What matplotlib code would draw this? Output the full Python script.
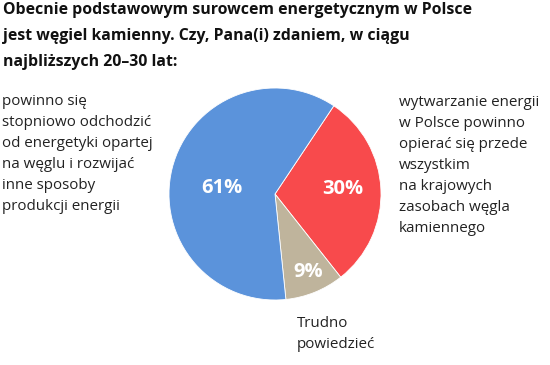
import matplotlib.pyplot as plt

plt.rcParams['font.family'] = ['Open Sans', 'DejaVu Sans']

# data
labels = ['wytwarzanie energii\nw Polsce powinno\nopierać się przede\nwszystkim\nna krajowych\nzasobach węgla\nkamiennego',
          'Trudno\npowiedzieć',
          'powinno się\nstopniowo odchodzić\nod energetyki opartej\nna węglu i rozwijać\ninne sposoby\nprodukcji energii']
values = [30, 9, 61]
colors = ['#f84a4c', '#bfb49c', '#5b93db']
title = 'Obecnie podstawowym surowcem energetycznym w Polsce\njest węgiel kamienny. Czy, Pana(i) zdaniem, w ciągu\nnajbliższych 20–30 lat:'

W, H = 550, 365
fig = plt.figure(figsize=(W / 100, H / 100), dpi=100)

# pie axes: center (275, 194) px from top, radius 106 px
cx, cy, r = 275, 194, 106
ax = fig.add_axes([(cx - r) / W, (H - cy - r) / H, 2 * r / W, 2 * r / H])
wedges, _ = ax.pie(values, colors=colors, startangle=56.3, counterclock=False,
                   wedgeprops=dict(linewidth=0.6, edgecolor='white'))
ax.set_xlim(-1, 1)
ax.set_ylim(-1, 1)
ax.set_aspect('equal')

# percentage labels
pct_pos = [(343, 189), (308, 272), (222, 188)]
for v, (px, py) in zip(values, pct_pos):
    fig.text(px / W, 1 - py / H, f'{v}%', color='white', fontsize=14.5,
             fontweight='bold', ha='center', va='center')

fig.text(3 / W, 1 - 2 / H, title, fontsize=11.45, fontweight='bold',
         ha='left', va='top', linespacing=1.85, color='#111111')

lab_pos = [(399, 95, 'left'), (297, 316, 'left'), (2, 94, 'left')]
for lab, (px, py, ha) in zip(labels, lab_pos):
    fig.text(px / W, 1 - py / H, lab, fontsize=10.9, ha=ha, va='top',
             linespacing=1.55, color='#222222')

fig.savefig('out.png', dpi=100)
